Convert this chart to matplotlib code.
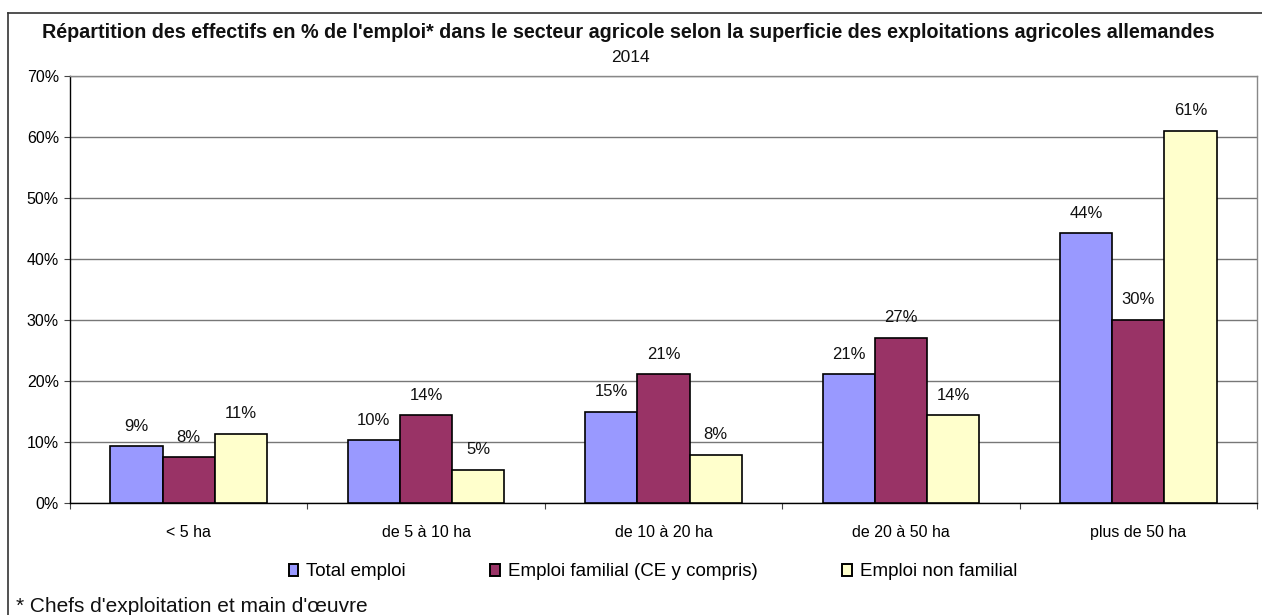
import matplotlib
matplotlib.use("Agg")
import matplotlib.pyplot as plt
from matplotlib.lines import Line2D
from matplotlib.patches import Patch
import numpy as np

plt.rcParams['font.family'] = ['Liberation Sans', 'DejaVu Sans']

categories = ["< 5 ha", "de 5 à 10 ha", "de 10 à 20 ha", "de 20 à 50 ha", "plus de 50 ha"]
series_names = ["Total emploi", "Emploi familial (CE y compris)", "Emploi non familial"]
total_emploi = [9.3, 10.3, 15.0, 21.1, 44.2]
emploi_familial = [7.5, 14.4, 21.1, 27.1, 30.0]
emploi_non_familial = [11.3, 5.4, 7.9, 14.4, 61.0]
y_ticks = [0, 10, 20, 30, 40, 50, 60, 70]

colors = ["#9999FF", "#993366", "#FFFFCC"]

W, H = 1262, 615
fig = plt.figure(figsize=(W / 100, H / 100), dpi=100)
fig.patch.set_facecolor("white")

ax = fig.add_axes([70 / W, (H - 503) / H, (1257 - 70) / W, (503 - 76) / H])

x = np.arange(len(categories))
bar_w = 0.22
data = [total_emploi, emploi_familial, emploi_non_familial]
for i, (vals, col) in enumerate(zip(data, colors)):
    pos = x + (i - 1) * bar_w
    ax.bar(pos, vals, width=bar_w, color=col, edgecolor="black",
           linewidth=1.2, zorder=3)
    for xp, v in zip(pos, vals):
        ax.annotate(f"{v:.0f}%", (xp, v), xytext=(0, 14.5), textcoords="offset points",
                    ha="center", va="center", fontsize=12, color="#111111", zorder=4)

ax.set_xlim(-0.5, len(categories) - 0.5)
ax.set_ylim(0, 70)
ax.set_yticks(y_ticks)
ax.set_yticklabels([f"{t}%" for t in y_ticks], fontsize=11.5)
ax.set_xticks(x)
ax.set_xticklabels(categories, fontsize=11.5)
ax.set_xticks(np.arange(len(categories) + 1) - 0.5, minor=True)
ax.tick_params(axis="x", which="major", length=0, pad=16)
ax.tick_params(axis="x", which="minor", length=4, width=0.8, color="#444444", direction="out")
ax.tick_params(axis="y", length=4, width=0.8, color="#444444", direction="out", pad=4)

ax.yaxis.grid(True, color="#777777", linewidth=1.0, zorder=0)
ax.set_axisbelow(True)
for side in ("left", "bottom"):
    ax.spines[side].set_color("black")
    ax.spines[side].set_linewidth(1.0)
for side in ("top", "right"):
    ax.spines[side].set_color("#888888")
    ax.spines[side].set_linewidth(1.0)

# Titles
fig.text(628 / W, 1 - 32 / H, "Répartition des effectifs en % de l'emploi* dans le secteur agricole selon la superficie des exploitations agricoles allemandes",
         ha="center", va="center", fontsize=14.2, fontweight="bold", color="#111111")
fig.text(630 / W, 1 - 57 / H, "2014", ha="center", va="center", fontsize=12.5, color="#111111")

# Legend
handles = [Patch(facecolor=c, edgecolor="black", linewidth=1.4) for c in colors]
fig.legend(handles, series_names, loc="center", bbox_to_anchor=(653 / W, 1 - 572 / H),
           ncol=3, frameon=False, fontsize=13.5, handlelength=0.5, handleheight=0.6,
           handletextpad=0.45, columnspacing=4.5)

# Footnote
fig.text(16 / W, 1 - 606 / H, "* Chefs d'exploitation et main d'œuvre", ha="left", va="center",
         fontsize=15, color="#111111")

# Outer frame (left and top edges)
fig.add_artist(Line2D([8 / W, 8 / W], [0, 1 - 13 / H], transform=fig.transFigure,
                      color="#333333", linewidth=1.2))
fig.add_artist(Line2D([8 / W, 1], [1 - 13 / H, 1 - 13 / H], transform=fig.transFigure,
                      color="#333333", linewidth=1.2))

fig.savefig("out.png", dpi=100)
